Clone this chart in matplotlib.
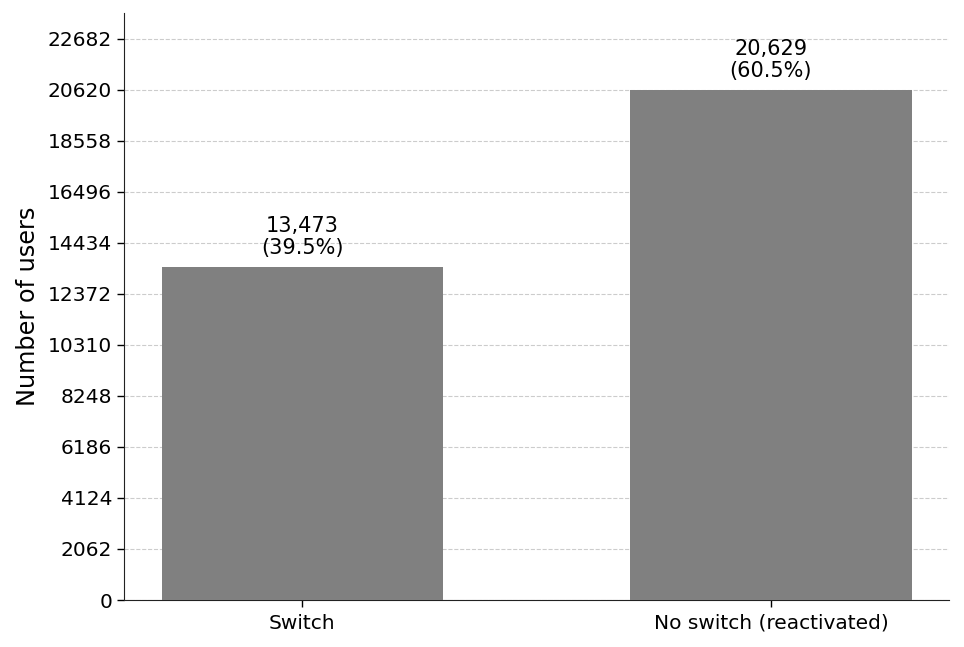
import matplotlib
matplotlib.use("Agg")
import matplotlib.pyplot as plt
import numpy as np

categories = ["Switch", "No switch (reactivated)"]
counts = [13473, 20629]
tick_step = 2062
n_ticks = 12

total = sum(counts)
fig = plt.figure(figsize=(9.64, 6.47), dpi=100)
ax = fig.add_axes([124/964, 1-600/647, (949-124)/964, (600-13)/647])
x = np.arange(len(categories))
ax.bar(x, counts, width=0.6, color="#808080", zorder=3)
for xi, c in zip(x, counts):
    ax.annotate(f"{c:,}\n({c/total*100:.1f}%)", (xi, c), xytext=(0, 6),
                textcoords="offset points", ha="center", va="bottom", fontsize=15,
                linespacing=1.15)
ax.set_xticks(x)
ax.set_xticklabels(categories, fontsize=14.5)
ticks = [i*tick_step for i in range(n_ticks)]
ax.set_yticks(ticks)
ax.set_yticklabels([str(t) for t in ticks], fontsize=14.5)
ax.tick_params(length=5, width=1)
ax.tick_params(axis="x", pad=5)
ax.set_ylim(0, max(counts)*1.15)
ax.set_ylabel("Number of users", fontsize=17.3, labelpad=6)
ax.grid(axis="y", linestyle="--", color="#cccccc", linewidth=0.8, zorder=0)
ax.spines["top"].set_visible(False)
ax.spines["right"].set_visible(False)
for s in ("left", "bottom"):
    ax.spines[s].set_color("#222222")
fig.savefig("out.png", dpi=100)
